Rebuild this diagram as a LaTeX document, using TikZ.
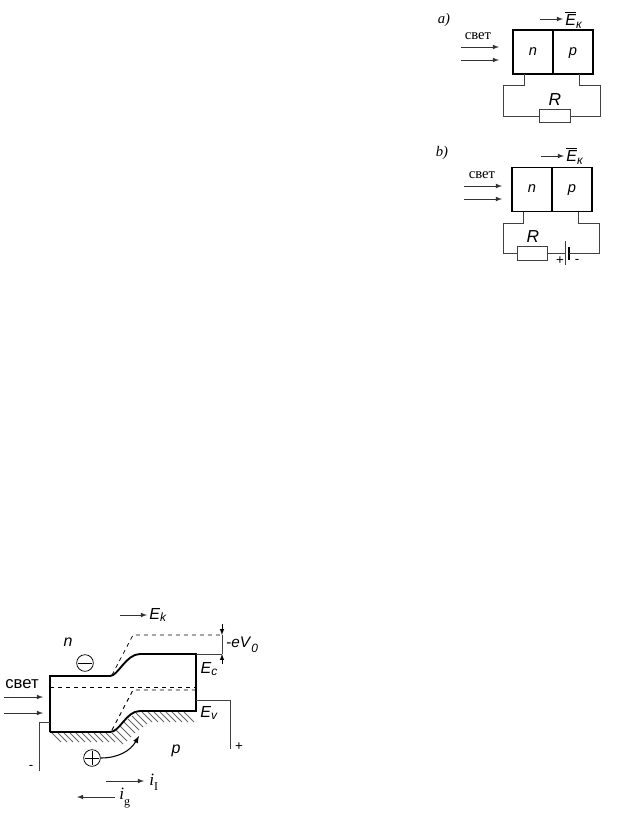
\documentclass[tikz,border=0pt]{standalone}
\usepackage{fontspec}
\setmainfont{Liberation Sans}
\newfontfamily\capfont{Liberation Serif}
\usetikzlibrary{calc,arrows}
\newcommand{\ebar}{$\overline{\mbox{\textit{E}}}$\raisebox{-2pt}{\small\textit{к}}}
\tikzset{
  wire/.style={black!75,line width=0.55pt},
  hatch/.style={black!60,line width=0.6pt},
  heavy/.style={black,line width=1.4pt},
  ray/.style={-latex,black!80,line width=0.6pt},
  cell/.style={draw,heavy,minimum width=30pt,minimum height=33pt,inner sep=0pt,text height=5pt,text depth=0pt,font=\itshape\fontsize{11}{12}\selectfont},
  resist/.style={draw,wire,fill=white,minimum width=23.5pt,minimum height=10pt,inner sep=0pt},
  lab/.style={inner sep=0pt,font=\fontsize{12}{13}\selectfont},
  serlab/.style={inner sep=0pt,font=\capfont\fontsize{11}{12}\selectfont},
  charge/.style={circle,draw,line width=0.55pt,minimum size=12.5pt,inner sep=0pt},
}
\begin{document}
\begin{tikzpicture}[x=0.75pt,y=-0.75pt]
  \useasboundingbox (0,0) rectangle (627,819);
  % panel a
  \node[serlab,font=\capfont\itshape\fontsize{11}{12}\selectfont](la)at(444,20){a)};
  \node[cell](na)at(533,52){n};
  \node[cell](pa)at(573,52){p};
  \coordinate(fa)at(540,19);\coordinate(fb)at(563,19);
  \draw[ray](fa)--(fb);
  \node[lab,anchor=west](ea)at(565,20){\ebar};
  \node[serlab](sa)at(478,36){свет};
  \coordinate(ra1)at(461,47);\coordinate(ra2)at(499,47);
  \coordinate(ra3)at(461,60);\coordinate(ra4)at(499,60);
  \draw[ray](ra1)--(ra2);
  \draw[ray](ra3)--(ra4);
  \node[resist](ra)at(555,116){};
  \node[lab,font=\fontsize{13}{14}\selectfont](rla)at(555,100){\textit{R}};
  \coordinate(wa1)at(524,74);\coordinate(wa2)at(579,74);
  \draw[wire](wa1)--(524,85)--(503,85)--(503,116)--(ra.west);
  \draw[wire](wa2)--(579,85)--(600,85)--(600,116)--(ra.east);
  % panel b
  \node[serlab,font=\capfont\itshape\fontsize{11}{12}\selectfont](lb)at(442,153){b)};
  \node[cell](nb)at(532,189.5){n};
  \node[cell](pb)at(572,189.5){p};
  \coordinate(fc)at(541,156);\coordinate(fd)at(564,156);
  \draw[ray](fc)--(fd);
  \node[lab,anchor=west](eb)at(566,156){\ebar};
  \node[serlab](sb)at(482,175){свет};
  \coordinate(rb1)at(464,186);\coordinate(rb2)at(502,186);
  \coordinate(rb3)at(464,199);\coordinate(rb4)at(502,199);
  \draw[ray](rb1)--(rb2);
  \draw[ray](rb3)--(rb4);
  \node[resist,minimum width=23pt](rb)at(532.5,253.5){};
  \node[lab,font=\fontsize{13}{14}\selectfont](rlb)at(533,237){\textit{R}};
  \coordinate(bt1)at(565,253.5);\coordinate(bt2)at(569,253.5);
  \coordinate(wb1)at(523,212);\coordinate(wb2)at(578,212);
  \draw[wire](wb1)--(523,223)--(503,223)--(503,253.5)--(rb.west);
  \draw[wire](rb.east)--(bt1);
  \draw[wire](565,241)--(565,265);
  \draw[black,line width=1.4pt](569,247)--(569,260);
  \draw[wire](bt2)--(599,253.5)--(599,223)--(578,223)--(wb2);
  \node[lab,font=\fontsize{10}{11}\selectfont](pl)at(560,261){+};
  \node[lab,font=\fontsize{10}{11}\selectfont](mi)at(577,261){-};
  % band diagram
  \foreach \x in {52,58,...,108} \draw[hatch](\x,733)--(\x+9,742);
  \foreach \x/\y in {112/733,116/730,120/726,124/722,128/719,132/716,136/713} \draw[hatch](\x,\y)--(\x+11,\y+11);
  \foreach \x in {142,148,...,184} \draw[hatch](\x,712)--(\x+10,722);
  \coordinate(cl)at(50,676);\coordinate(cr)at(196,654);
  \coordinate(vl)at(50,732);\coordinate(vr)at(196,711);
  \draw[heavy](vl)--(cl)--(110,676)..controls(118,676)and(126,654)..(140,654)--(cr)--(vr)--(140,711)..controls(126,711)and(120,732)..(110,732)--(vl);
  \coordinate(ml)at(50,687);\coordinate(mr)at(196,687);
  \draw[dashed,line width=0.7pt](ml)--(mr);
  \coordinate(du)at(222,635);\coordinate(dv)at(196,690);
  \draw[dashed,line width=0.55pt](112,675)--(133,635)--(du);
  \draw[dashed,line width=0.7pt](112,730)--(133,690)--(dv);
  \coordinate(ec)at(222,654);
  \draw[wire](cr)--(ec);
  \draw[wire](du)--(ec);
  \draw[-latex,wire,black](222,624)--(du);
  \draw[-latex,wire,black](222,664)--(ec);
  \node[lab,anchor=west,font=\fontsize{11.5}{12}\selectfont](ev)at(226,645){-\textit{eV}\raisebox{-4pt}{\small\textit{0}}};
  \node[lab](ecl)at(209,669){\textit{E}\raisebox{-2pt}{\small\textit{c}}};
  \node[lab](evl)at(209,713){\textit{E}\raisebox{-2pt}{\small\textit{v}}};
  \coordinate(ke)at(120,615);\coordinate(kf)at(147,615);
  \draw[ray](ke)--(kf);
  \node[lab,anchor=west](ek)at(149,615){\textit{E}\raisebox{-2pt}{\small\textit{k}}};
  \node[lab](nl)at(68,642){\textit{n}};
  \node[lab](pl2)at(176,751){\textit{p}};
  \node[charge](mc)at(85,663){};
  \draw[line width=0.55pt]($(mc.west)+(2,0)$)--($(mc.east)+(-2,0)$);
  \node[charge](pc)at(92,758){};
  \draw[line width=0.55pt]($(pc.west)+(2,0)$)--($(pc.east)+(-2,0)$);
  \draw[line width=0.55pt]($(pc.north)+(0,2)$)--($(pc.south)+(0,-2)$);
  \coordinate(tip)at(139,736);
  \draw[-latex,line width=0.8pt](pc.east)to[out=0,in=240](tip);
  \node[lab,font=\fontsize{12.5}{13}\selectfont](sc)at(22,684){свет};
  \coordinate(ga1)at(4,697);\coordinate(ga2)at(43,697);
  \coordinate(ga3)at(4,713);\coordinate(ga4)at(43,713);
  \draw[ray](ga1)--(ga2);
  \draw[ray](ga3)--(ga4);
  \coordinate(wl)at(50,722);\coordinate(wr)at(196,700);
  \draw[wire](wl)--(39,722)--(39,771);
  \draw[wire](wr)--(230,700)--(230,749);
  \node[lab,font=\fontsize{10}{11}\selectfont](pp)at(239,747){+};
  \node[lab,font=\fontsize{10}{11}\selectfont](mm)at(31,767){-};
  \coordinate(ia)at(106,781);\coordinate(ib)at(144,781);
  \draw[ray](ia)--(ib);
  \node[serlab,anchor=west,font=\capfont\fontsize{13}{14}\selectfont](il)at(149,782){\textit{i}\raisebox{-4pt}{\small I}};
  \coordinate(ic)at(115,797);\coordinate(id)at(77,797);
  \draw[ray](ic)--(id);
  \node[serlab,anchor=west,font=\capfont\fontsize{13}{14}\selectfont](ig)at(119,798){\textit{i}\raisebox{-4pt}{\small g}};
\end{tikzpicture}
\end{document}
